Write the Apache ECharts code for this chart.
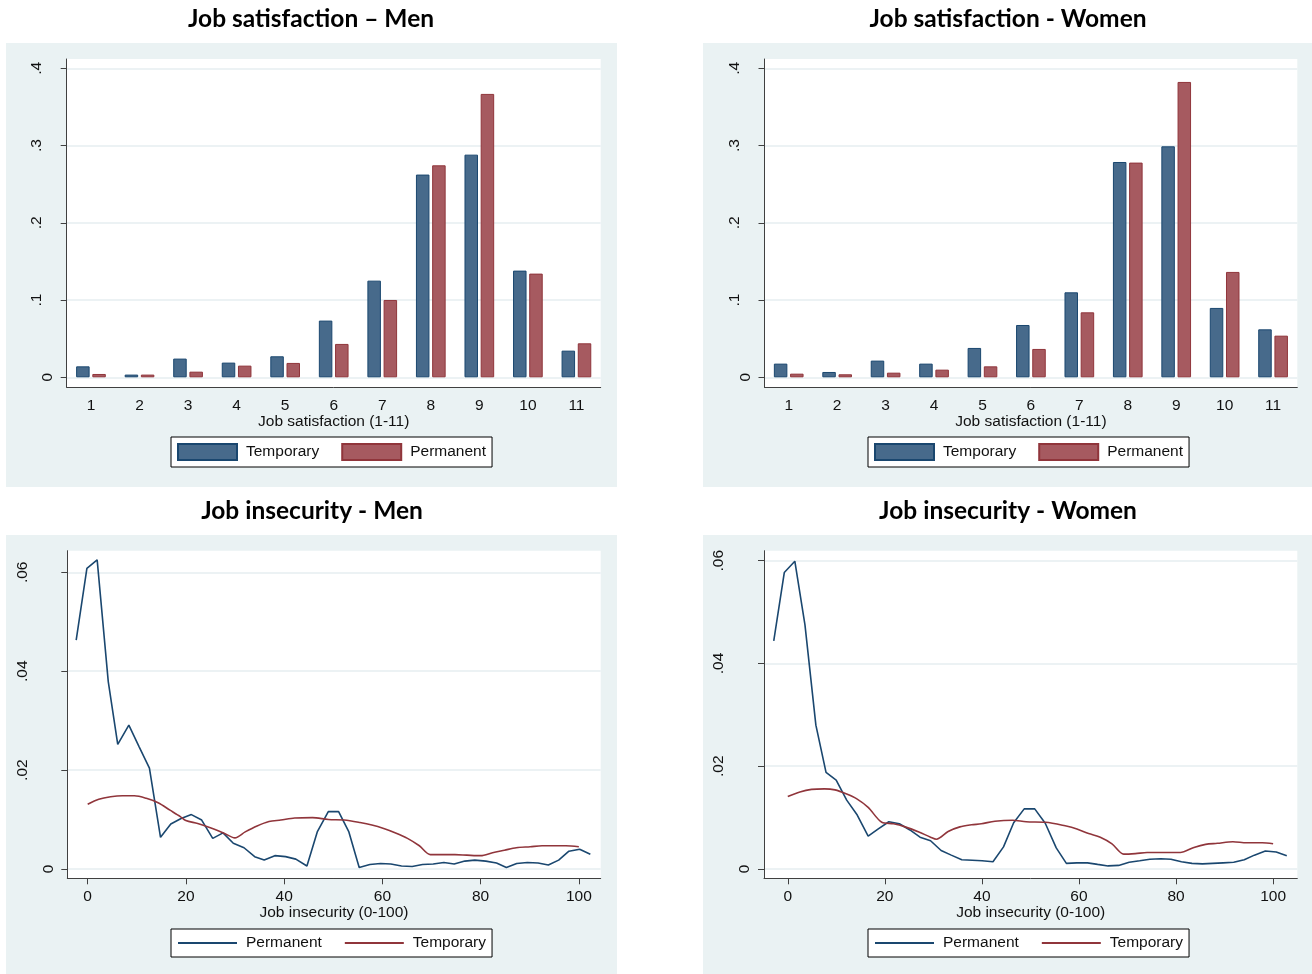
<!DOCTYPE html>
<html>
<head>
<meta charset="utf-8"/>
<title>Job satisfaction / Job insecurity</title>
<style>
    html, body { margin: 0; padding: 0; background: #fff; }
    #main { width: 1312px; height: 974px; }
</style>
</head>
<body>
<div id="main"></div>
<script src="https://cdn.jsdelivr.net/npm/echarts@6/dist/echarts.min.js"></script>
<script>
// job satisfaction (1-11), share of workers
var satCategories = ['1', '2', '3', '4', '5', '6', '7', '8', '9', '10', '11'];
var satMenTemporary   = [0.0142, 0.0035, 0.0242, 0.0190, 0.0272, 0.0734, 0.1251, 0.2624, 0.2882, 0.1381, 0.0345];
var satMenPermanent   = [0.0043, 0.0035, 0.0073, 0.0151, 0.0186, 0.0432, 0.1001, 0.2744, 0.3668, 0.1342, 0.0440];
var satWomenTemporary = [0.0177, 0.0069, 0.0216, 0.0177, 0.0380, 0.0677, 0.1100, 0.2787, 0.2990, 0.0898, 0.0621];
var satWomenPermanent = [0.0047, 0.0039, 0.0060, 0.0099, 0.0142, 0.0367, 0.0841, 0.2779, 0.3823, 0.1364, 0.0539];
var satTicks = [0, 0.1, 0.2, 0.3, 0.4];

// job insecurity (0-100), kernel densities [x, density]
var insMenPermanent = [
    [-2.34, 0.0463], [-0.16, 0.0608], [1.93, 0.0625], [4.19, 0.0379], [6.12, 0.0252],
    [8.38, 0.0291], [10.48, 0.0247], [12.57, 0.0204], [14.83, 0.0064], [16.92, 0.0091],
    [19.02, 0.0102], [21.11, 0.0110], [23.21, 0.0099], [25.46, 0.0062], [27.56, 0.0073],
    [29.65, 0.0052], [31.83, 0.0043], [34.0, 0.0025], [35.94, 0.0018], [38.11, 0.0027],
    [40.29, 0.0025], [42.38, 0.0020], [44.64, 0.0006], [46.74, 0.0075], [48.99, 0.0116],
    [51.09, 0.0116], [53.18, 0.0075], [55.28, 0.0003], [57.45, 0.0009], [59.63, 0.0011],
    [61.72, 0.0010], [63.9, 0.0006], [66.07, 0.0005], [68.17, 0.0009], [70.35, 0.0010],
    [72.52, 0.0013], [74.62, 0.0010], [76.79, 0.0016], [78.81, 0.0018], [81.06, 0.0016],
    [83.24, 0.0012], [85.25, 0.0003], [87.35, 0.0011], [89.52, 0.0013], [91.7, 0.0012],
    [93.79, 0.0008], [95.89, 0.0018], [97.98, 0.0036], [100.16, 0.0040], [102.34, 0.0030]
];
var insMenTemporary = [
    [0, 0.0131], [2.26, 0.0141], [4.67, 0.0146], [7.09, 0.0148], [9.51, 0.0148],
    [11.93, 0.0143], [14.34, 0.0134], [16.76, 0.0119], [18.86, 0.0106], [19.98, 0.0098],
    [22.4, 0.0092], [24.82, 0.0084], [27.64, 0.0073], [29.98, 0.0063], [32.07, 0.0075],
    [34.49, 0.0087], [36.91, 0.0096], [39.32, 0.0099], [42.14, 0.0103], [45.77, 0.0104],
    [48.99, 0.0100], [52.22, 0.0099], [55.44, 0.0094], [57.86, 0.0089], [60.27, 0.0082],
    [62.69, 0.0073], [65.11, 0.0062], [67.53, 0.0047], [69.78, 0.0029], [72.36, 0.0029],
    [74.78, 0.0029], [77.2, 0.0028], [80.02, 0.0027], [82.43, 0.0033], [84.85, 0.0038],
    [87.27, 0.0043], [90.09, 0.0045], [92.51, 0.0047], [94.92, 0.0047], [97.34, 0.0047],
    [100, 0.0045]
];
var insWomenPermanent = [
    [-2.89, 0.0444], [-0.72, 0.0577], [1.45, 0.0599], [3.54, 0.0475], [5.79, 0.0280],
    [7.88, 0.0188], [9.97, 0.0173], [12.14, 0.0134], [14.31, 0.0105], [16.56, 0.0064],
    [18.65, 0.0078], [20.82, 0.0092], [22.99, 0.0088], [25.16, 0.0076], [27.25, 0.0062],
    [29.42, 0.0055], [31.59, 0.0036], [33.68, 0.0027], [35.85, 0.0018], [38.02, 0.0017],
    [40.03, 0.0016], [42.28, 0.0014], [44.45, 0.0043], [46.54, 0.0090], [48.71, 0.0117],
    [50.88, 0.0117], [53.05, 0.0089], [55.31, 0.0041], [57.4, 0.0011], [59.57, 0.0012],
    [61.74, 0.0012], [63.83, 0.0009], [66.0, 0.0006], [68.17, 0.0007], [70.34, 0.0013],
    [72.51, 0.0016], [74.6, 0.0019], [76.85, 0.0020], [78.94, 0.0019], [81.11, 0.0014],
    [83.28, 0.0011], [85.45, 0.0010], [87.54, 0.0011], [89.71, 0.0012], [91.88, 0.0013],
    [94.05, 0.0018], [96.14, 0.0027], [98.39, 0.0035], [100.64, 0.0033], [102.81, 0.0026]
];
var insWomenTemporary = [
    [0, 0.0141], [2.49, 0.0150], [4.9, 0.0155], [7.56, 0.0156], [9.73, 0.0154],
    [12.14, 0.0146], [14.15, 0.0137], [16.56, 0.0120], [19.37, 0.0091], [21.78, 0.0088],
    [24.2, 0.0082], [27.01, 0.0072], [29.42, 0.0062], [30.63, 0.0058], [33.04, 0.0073],
    [35.45, 0.0082], [37.86, 0.0086], [39.87, 0.0088], [42.68, 0.0093], [46.3, 0.0095],
    [49.12, 0.0092], [53.14, 0.0091], [57.15, 0.0084], [59.57, 0.0078], [61.98, 0.0069],
    [64.39, 0.0062], [66.8, 0.0049], [69.21, 0.0029], [71.62, 0.0030], [74.04, 0.0032],
    [76.45, 0.0032], [78.86, 0.0032], [80.87, 0.0032], [83.68, 0.0042], [86.09, 0.0048],
    [88.5, 0.0050], [91.72, 0.0053], [94.53, 0.0051], [97.75, 0.0051], [100, 0.0049]
];
var insXTicks = [0, 20, 40, 60, 80, 100];
var insYTicks = [0, 0.02, 0.04, 0.06];

var BLUE = '#1A476F', RED = '#90353B';
var BAR_BLUE = '#476A8B', BAR_RED = '#A65A60';
var PANEL = '#EAF2F3', GRIDLINE = '#E6EEF1', AXIS = '#404040';
var FONT = 'Liberation Sans';
var FS = 15.5;

// y labels like Stata: ".1", ".02"; longer strings sit further from the axis
function yLabel(v) {
    if (v === 0) return '{p1|0}';
    var s = String(+v.toFixed(2)).replace(/^0/, '');
    return '{p' + s.length + '|' + s + '}';
}
var yRich = {
    p1: { fontSize: FS, fontFamily: FONT, color: '#111', padding: [0, 0, 0, 0] },
    p2: { fontSize: FS, fontFamily: FONT, color: '#111', padding: [0, 0, 11, 0] },
    p3: { fontSize: FS, fontFamily: FONT, color: '#111', padding: [0, 0, 26, 0] }
};

function yAxisFor(grid, min, max, ticks) {
    return {
        type: 'value', gridIndex: grid, min: min, max: max,
        axisLine: { show: true, onZero: false, lineStyle: { color: AXIS, width: 1 } },
        axisTick: { show: true, length: 6, customValues: ticks, lineStyle: { color: AXIS } },
        axisLabel: { rotate: 90, margin: 11, customValues: ticks, formatter: yLabel, rich: yRich },
        splitLine: { show: true, lineStyle: { color: GRIDLINE, width: 1.5 } }
    };
}

function catXAxis(grid) {
    return {
        type: 'category', gridIndex: grid, data: satCategories,
        name: 'Job satisfaction (1-11)', nameLocation: 'middle', nameGap: 26,
        nameTextStyle: { fontSize: FS, fontFamily: FONT, color: '#111' },
        axisLine: { onZero: false, lineStyle: { color: AXIS, width: 1 } },
        axisTick: { alignWithLabel: true, length: 6, lineStyle: { color: AXIS } },
        axisLabel: { margin: 10, fontSize: FS, fontFamily: FONT, color: '#111' },
        splitLine: { show: false }
    };
}

function valXAxis(grid, min, max) {
    return {
        type: 'value', gridIndex: grid, min: min, max: max,
        name: 'Job insecurity (0-100)', nameLocation: 'middle', nameGap: 26,
        nameTextStyle: { fontSize: FS, fontFamily: FONT, color: '#111' },
        axisLine: { onZero: false, lineStyle: { color: AXIS, width: 1 } },
        axisTick: { length: 6, customValues: insXTicks, lineStyle: { color: AXIS } },
        axisLabel: { margin: 10, fontSize: FS, fontFamily: FONT, color: '#111', customValues: insXTicks },
        splitLine: { show: false }
    };
}

// line legends: hide the marker, keep only the line sample
function legendFor(left, top, names, isLine) {
    var lg = {
        left: left, top: top, orient: 'horizontal',
        data: names,
        itemWidth: 59, itemHeight: 16, itemGap: 22,
        padding: [6, 6, 6, 6],
        backgroundColor: '#fff', borderColor: '#000', borderWidth: 1, borderRadius: 0,
        selectedMode: false,
        formatter: function (n) { return n.split(' ')[0]; },
        textStyle: { fontSize: FS, fontFamily: FONT, color: '#111', padding: [0, 0, 0, 4] }
    };
    if (isLine) {
        lg.itemStyle = { opacity: 0 };
    } else {
        lg.icon = 'rect';
    }
    return lg;
}

function barSeries(name, grid, data, fill, edge) {
    return {
        name: name, type: 'bar', xAxisIndex: grid, yAxisIndex: grid, data: data,
        barWidth: 13.5, barGap: '20%',
        itemStyle: { color: fill, borderColor: edge, borderWidth: 1 },
        emphasis: { disabled: true }
    };
}

function lineSeries(name, grid, data, color, smooth) {
    return {
        name: name, type: 'line', xAxisIndex: grid, yAxisIndex: grid, data: data,
        symbol: 'none', smooth: smooth,
        lineStyle: { color: color, width: 1.6 },
        itemStyle: { color: color },
        emphasis: { disabled: true }
    };
}

function titleAt(text, x, top) {
    return {
        text: text, left: x, top: top, textAlign: 'center', padding: 0,
        textStyle: { fontSize: 24.5, fontWeight: 'bold', fontFamily: 'Lato', color: '#000' }
    };
}

function panel(x, y, w, h) {
    return { type: 'rect', z: -10, silent: true, shape: { x: x, y: y, width: w, height: h }, style: { fill: PANEL } };
}

var myChart = echarts.init(document.getElementById('main'), null, { renderer: 'canvas' });

var option = {
    backgroundColor: '#fff',
    animation: false,
    graphic: [
        panel(6, 43, 611, 444),
        panel(703, 43, 609, 444),
        panel(6, 535, 611, 439),
        panel(703, 535, 609, 439)
    ],
    title: [
        titleAt('Job satisfaction \u2013 Men', 311, 7),
        titleAt('Job satisfaction - Women', 1008, 7),
        titleAt('Job insecurity - Men', 312, 499),
        titleAt('Job insecurity - Women', 1008, 499)
    ],
    legend: [
        legendFor(171, 437, ['Temporary', 'Permanent'], false),
        legendFor(868, 437, ['Temporary', 'Permanent'], false),
        legendFor(171, 929, ['Permanent density', 'Temporary density'], true),
        legendFor(868, 929, ['Permanent density', 'Temporary density'], true)
    ],
    grid: [
        { left: 66.7, top: 59, width: 534, height: 328.3, show: true, backgroundColor: '#fff', borderWidth: 0 },
        { left: 764.5, top: 59, width: 532.8, height: 328.3, show: true, backgroundColor: '#fff', borderWidth: 0 },
        { left: 67.3, top: 550.7, width: 533.4, height: 327.6, show: true, backgroundColor: '#fff', borderWidth: 0 },
        { left: 764, top: 550.7, width: 533.3, height: 327.6, show: true, backgroundColor: '#fff', borderWidth: 0 }
    ],
    xAxis: [
        catXAxis(0),
        catXAxis(1),
        valXAxis(2, -4.15, 104.45),
        valXAxis(3, -4.9, 104.98)
    ],
    yAxis: [
        yAxisFor(0, -0.01294, 0.412, satTicks),
        yAxisFor(1, -0.01294, 0.412, satTicks),
        yAxisFor(2, -0.00188, 0.06437, insYTicks),
        yAxisFor(3, -0.00181, 0.06195, insYTicks)
    ],
    series: [
        barSeries('Temporary', 0, satMenTemporary, BAR_BLUE, BLUE),
        barSeries('Permanent', 0, satMenPermanent, BAR_RED, RED),
        barSeries('Temporary', 1, satWomenTemporary, BAR_BLUE, BLUE),
        barSeries('Permanent', 1, satWomenPermanent, BAR_RED, RED),
        lineSeries('Permanent density', 2, insMenPermanent, BLUE, false),
        lineSeries('Temporary density', 2, insMenTemporary, RED, 0.3),
        lineSeries('Permanent density', 3, insWomenPermanent, BLUE, false),
        lineSeries('Temporary density', 3, insWomenTemporary, RED, 0.3)
    ]
};

myChart.setOption(option);

window.onresize = function () {
    myChart.resize();
};
</script>
</body>
</html>
